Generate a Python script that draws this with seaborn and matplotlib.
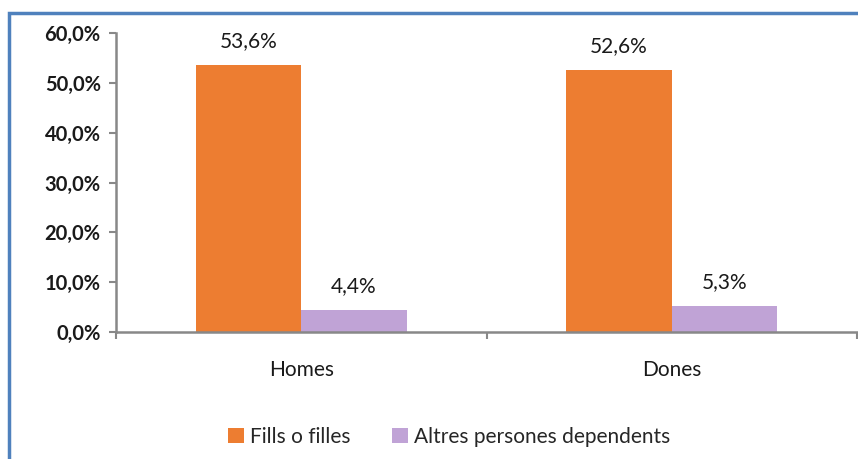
import numpy as np
import pandas as pd
import seaborn as sns
import matplotlib.pyplot as plt
from matplotlib.patches import Rectangle

# Data
groups = ['Homes', 'Dones']
series = ['Fills o filles', 'Altres persones dependents']
fills = [53.6, 52.6]
altres = [4.4, 5.3]
colors = ['#ED7D31', '#C0A3D6']

df = pd.DataFrame({
    'grup': groups * 2,
    'serie': [series[0]] * 2 + [series[1]] * 2,
    'valor': fills + altres,
})

sns.set_theme(style='white')
plt.rcParams['font.family'] = ['Lato', 'DejaVu Sans']

fs = 15
txt = '#1a1a1a'

fig = plt.figure(figsize=(8.58, 4.59), dpi=100)
ax = fig.add_axes([116 / 858, 1 - 332 / 459, 741 / 858, 299 / 459])

sns.barplot(data=df, x='grup', y='valor', hue='serie', palette=colors,
            width=0.57, saturation=1, linewidth=0, ax=ax, legend=True)

for cont in ax.containers:
    labels = [f"{v:.1f}%".replace('.', ',') for v in cont.datavalues]
    ax.bar_label(cont, labels=labels, padding=10, fontsize=fs, color=txt)

ax.set_ylim(0, 60)
ax.set_xlim(-0.5, 1.5)
ax.set_yticks(np.arange(0, 61, 10))
ax.set_yticklabels([f"{t:.1f}%".replace('.', ',') for t in np.arange(0, 61, 10)],
                   fontsize=14.5, fontweight='bold', color=txt)
ax.set_xticks([0, 1])
ax.set_xticklabels(groups, fontsize=fs, color=txt)
ax.tick_params(axis='x', length=0, pad=20)
ax.tick_params(axis='y', length=5, width=1.5, color='#888888', left=True, pad=6)
ax.set_xticks([-0.5, 0.5, 1.5], minor=True)
ax.tick_params(axis='x', which='minor', length=5, width=1.5, color='#888888', bottom=True, direction='out')
ax.set_xlabel('')
ax.set_ylabel('')

for s in ['top', 'right']:
    ax.spines[s].set_visible(False)
for s in ['left', 'bottom']:
    ax.spines[s].set_color('#888888')
    ax.spines[s].set_linewidth(1.8)

handles, labs = ax.get_legend_handles_labels()
ax.legend(handles, labs, loc='center', bbox_to_anchor=(449 / 858, 1 - 437 / 459),
          bbox_transform=fig.transFigure, ncol=2, frameon=False, fontsize=fs,
          handlelength=0.75, handleheight=0.75, handletextpad=0.3, columnspacing=2.0)

# blue frame around the chart
fig.patches.append(Rectangle((9 / 858, -0.2), 1.5, 1 - 13 / 459 + 0.2,
                             transform=fig.transFigure, fill=False,
                             edgecolor='#4F81BD', linewidth=2.5))

fig.savefig('out.png', dpi=100)
